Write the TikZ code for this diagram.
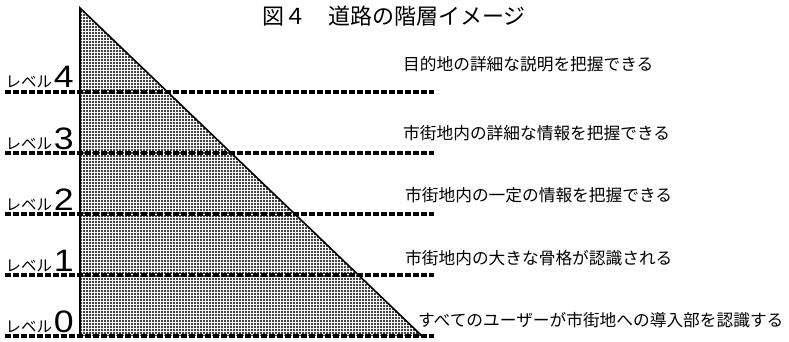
\documentclass[tikz,border=0pt]{standalone}
\usepackage{fontspec}
\setmainfont{Noto Sans CJK JP}
\newfontfamily\digitfont{Liberation Sans}
\usetikzlibrary{patterns}
\pgfdeclarepatternformonly{bigdots}{\pgfqpoint{-1.5pt}{-1.5pt}}{\pgfqpoint{1.5pt}{1.5pt}}{\pgfqpoint{3pt}{3pt}}{%
  \pgfpathcircle{\pgfqpoint{0pt}{0pt}}{1.05pt}\pgfusepath{fill}}
\tikzset{
  levelline/.style={line width=3.5pt, dash pattern=on 5.5pt off 2.5pt},
  desc/.style={anchor=west, inner sep=0pt, font=\fontsize{16.7}{20}\selectfont},
  lvword/.style={anchor=base east, inner sep=0pt, font=\fontsize{15.5}{18}\selectfont},
  lvnum/.style={anchor=base east, inner sep=0pt, xscale=1.15, font=\digitfont\fontsize{31}{34}\selectfont},
  titletext/.style={anchor=west, inner sep=0pt, font=\fontsize{22}{26}\selectfont},
}
\begin{document}
\begin{tikzpicture}[x=1pt, y=-1pt]
\useasboundingbox (0,0) rectangle (789,342);
% triangle
\coordinate (apex) at (80,8);
\coordinate (bl) at (80,336);
\coordinate (br) at (422,336);
\fill[pattern=bigdots] (apex) -- (br) -- (bl) -- cycle;
\draw[line width=1.6pt, line join=miter] (bl) -- (apex) -- (br);
% level lines
\foreach \n/\y in {4/92, 3/153, 2/214, 1/275, 0/336} {
  \coordinate (l\n) at (5,\y);
  \coordinate (r\n) at (434,\y);
  \draw[levelline] (l\n) -- (r\n);
  \node[lvnum] (n\n) at (74,\y-4) {\n};
  \node[lvword] (w\n) at ([xshift=-1.5pt]n\n.base west) {レベル};
}
% title
\node[titletext] (title) at (262,16) {図４　道路の階層イメージ};
% descriptions
\node[desc] (d4) at (403,64) {目的地の詳細な説明を把握できる};
\node[desc] (d3) at (403,133) {市街地内の詳細な情報を把握できる};
\node[desc] (d2) at (405,195) {市街地内の一定の情報を把握できる};
\node[desc] (d1) at (405,258) {市街地内の大きな骨格が認識される};
\node[desc] (d0) at (418,320) {すべてのユーザーが市街地への導入部を認識する};
\end{tikzpicture}
\end{document}
